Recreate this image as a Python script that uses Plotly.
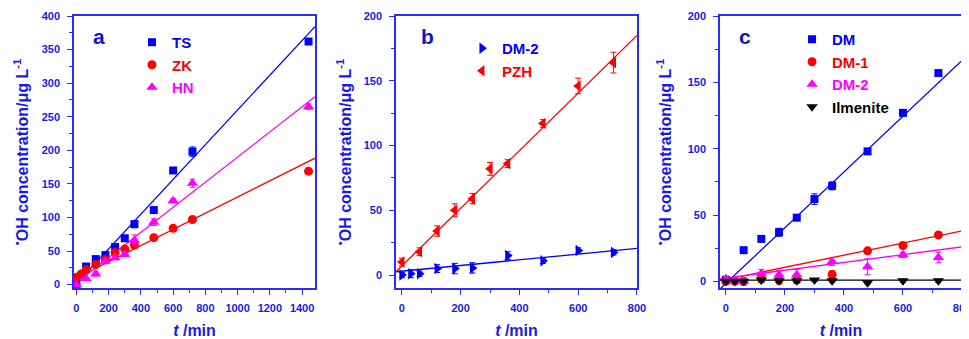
import plotly.graph_objects as go

# ---------------- data ----------------
# Panel a
TS_T = [0, 60, 120, 180, 240, 300, 360, 480, 600, 720, 1440]
TS_V = [1, 27, 38, 44, 56, 69, 90, 111, 170, 198, 362]
TS_E = [2, 3, 4, 3, 3, 3, 5, 4, 4, 7, 4]

ZK_T = [0, 30, 60, 120, 180, 240, 300, 360, 480, 600, 720, 1440]
ZK_V = [11, 16, 22, 30, 37, 48, 53, 59, 70, 84, 97, 169]
ZK_E = [2, 2, 2, 2, 2, 3, 2, 2, 2, 2, 2, 3]

HN_T = [0, 60, 120, 180, 240, 300, 360, 480, 600, 720, 1440]
HN_V = [0, 9, 16, 35, 40, 45, 66, 93, 125, 151, 265]
HN_E = [2, 2, 3, 3, 3, 3, 8, 5, 3, 6, 4]

# Panel b
DM2B_T = [0, 30, 60, 120, 180, 240, 360, 480, 600, 720]
DM2B_V = [0, 1, 1, 5, 5, 5.5, 15, 11, 19, 17.5]
DM2B_E = [2, 3, 2, 3, 4, 4, 3, 2, 2, 2]

PZH_T = [0, 60, 120, 180, 240, 300, 360, 480, 600, 720]
PZH_V = [10, 18, 34, 50, 59, 82, 86, 117, 146, 164]
PZH_E = [3, 3, 4, 5, 4, 5, 3, 3, 6, 8]

# Panel c
DM_T = [0, 60, 120, 180, 240, 300, 360, 480, 600, 720]
DM_V = [1, 23.5, 32, 37, 48, 62, 72, 98, 127, 157]
DM_E = [1, 2, 2, 3, 2, 4, 3, 2, 1, 2]

DM1_T = [0, 30, 60, 120, 180, 240, 360, 480, 600, 720]
DM1_V = [0, 0, 0, 2, 1, 1, 5, 23, 27, 35]
DM1_E = [1, 1, 2, 3, 3, 2, 3, 1, 1, 1]

DM2C_T = [0, 30, 60, 120, 180, 240, 360, 480, 600, 720]
DM2C_V = [2, 0, 0, 6, 5, 5, 15, 11, 20, 18]
DM2C_E = [2, 2, 3, 3, 3, 4, 3, 6, 2, 4]

ILM_T = [0, 30, 60, 120, 180, 240, 300, 360, 480, 600, 720]
ILM_V = [0, 0, 0, 1, 0.5, 0.5, 1, 0.5, -1, 0.5, 0.5]
ILM_E = [1, 1, 1, 1, 1, 1, 1, 1, 1, 1, 1]

# linear fits: (intercept, slope)
FIT_TS = (1.5, 0.2586)
FIT_ZK = (10.0, 0.1205)
FIT_HN = (3.0, 0.187)
FIT_DM2B = (3.0, 0.0219)
FIT_PZH = (7.0, 0.2225)
FIT_DM = (-1.5, 0.21)
FIT_DM1 = (1.5, 0.0456)
FIT_DM2C = (2.5, 0.0294)
FIT_ILM = (1.0, 0.0)

XR_A = [-15, 1480]
YR_A = [-5, 400]
XR_B = [-20, 800]
YR_B = [-10, 200]
XR_C = [-20, 800]
YR_C = [-5, 200]

# ---------------- style ----------------
BLUE = "#0000ff"
RED = "#ff0000"
MAG = "#ff00ff"
BLACK = "#000000"
AX = "#2b2bff"
TXT = "#1a1ae6"
FONT = "Arial, 'Liberation Sans', sans-serif"

fig = go.Figure()


def add_series(t, v, e, color, symbol, size, name, xa, ya, legend, showlegend=True):
    fig.add_trace(go.Scatter(
        x=t, y=v, mode="markers", name=name,
        marker=dict(color=color, symbol=symbol, size=size, line=dict(width=0)),
        error_y=dict(type="data", array=e, visible=True, color=color,
                     thickness=1, width=3),
        xaxis=xa, yaxis=ya, legend=legend, showlegend=showlegend,
    ))


def add_fit(fit, xr, color, xa, ya):
    b, m = fit
    x0, x1 = xr
    fig.add_trace(go.Scatter(
        x=[x0, x1], y=[b + m * x0, b + m * x1], mode="lines",
        line=dict(color=color, width=1.3), showlegend=False,
        xaxis=xa, yaxis=ya, hoverinfo="skip",
    ))


def cname(txt, color):
    return f'<span style="color:{color}">{txt}</span>'


# Panel a
add_fit(FIT_TS, XR_A, BLUE, "x", "y")
add_fit(FIT_ZK, XR_A, RED, "x", "y")
add_fit(FIT_HN, XR_A, MAG, "x", "y")
add_series(TS_T, TS_V, TS_E, BLUE, "square", 8, cname("TS", BLUE), "x", "y", "legend")
add_series(ZK_T, ZK_V, ZK_E, RED, "circle", 9, cname("ZK", RED), "x", "y", "legend")
add_series(HN_T, HN_V, HN_E, MAG, "triangle-up", 10, cname("HN", MAG), "x", "y", "legend")

# Panel b
add_fit(FIT_DM2B, XR_B, BLUE, "x2", "y2")
add_fit(FIT_PZH, XR_B, RED, "x2", "y2")
add_series(DM2B_T, DM2B_V, DM2B_E, BLUE, "triangle-right", 10, cname("DM-2", BLUE), "x2", "y2", "legend2")
add_series(PZH_T, PZH_V, PZH_E, RED, "triangle-left", 10, cname("PZH", RED), "x2", "y2", "legend2")

# Panel c
add_fit(FIT_DM, XR_C, BLUE, "x3", "y3")
add_fit(FIT_DM1, XR_C, RED, "x3", "y3")
add_fit(FIT_DM2C, XR_C, MAG, "x3", "y3")
add_fit(FIT_ILM, XR_C, BLACK, "x3", "y3")
add_series(DM_T, DM_V, DM_E, BLUE, "square", 8, cname("DM", BLUE), "x3", "y3", "legend3")
add_series(DM1_T, DM1_V, DM1_E, RED, "circle", 9, cname("DM-1", RED), "x3", "y3", "legend3")
add_series(DM2C_T, DM2C_V, DM2C_E, MAG, "triangle-up", 10, cname("DM-2", MAG), "x3", "y3", "legend3")
add_series(ILM_T, ILM_V, ILM_E, BLACK, "triangle-down", 10, cname("Ilmenite", BLACK), "x3", "y3", "legend3")

YTITLE = "<sup>•</sup>OH concentration/μg L<sup>-1</sup>"
XTITLE = "<i>t</i> /min"


def axis(rng, dtick, mdtick, domain, anchor, title, standoff, lblstand):
    return dict(
        range=rng, dtick=dtick, tick0=0, domain=domain, anchor=anchor,
        showline=True, linecolor=AX, linewidth=1.5, mirror=True,
        ticks="outside", ticklen=5, tickwidth=1.2, tickcolor=AX,
        ticklabelstandoff=lblstand, ticklabeloverflow="allow",
        tickfont=dict(family=FONT, size=11, color=TXT, weight="bold"),
        showgrid=False, zeroline=False,
        minor=dict(ticks="outside", ticklen=3, tickwidth=1, tickcolor=AX,
                   dtick=mdtick, tick0=0, showgrid=False),
        title=dict(text=title, standoff=standoff,
                   font=dict(family=FONT, size=16, color=TXT, weight="bold")),
    )


DOM_A = [0.0, 0.2714]
DOM_B = [0.3626, 0.6340]
DOM_C = [0.7275, 1.0]

LEGFONT = dict(family=FONT, size=15, color=BLUE, weight="bold")
LETTER = dict(family=FONT, size=21, color="#1414c8", weight="bold")

# page body has an 8px margin, so the figure is 8px smaller than the window
fig.update_layout(
    width=961, height=331,
    margin=dict(l=66, r=7, t=8, b=51, autoexpand=False),
    paper_bgcolor="white", plot_bgcolor="white",
    font=dict(family=FONT, color=TXT),
    xaxis=axis(XR_A, 200, 100, DOM_A, "y", XTITLE, 14, 4),
    yaxis=axis(YR_A, 50, 25, [0, 1], "x", YTITLE, 9, 5),
    xaxis2=axis(XR_B, 200, 100, DOM_B, "y2", XTITLE, 14, 4),
    yaxis2=axis(YR_B, 50, 25, [0, 1], "x2", YTITLE, 8, 5),
    xaxis3=axis(XR_C, 200, 100, DOM_C, "y3", XTITLE, 14, 4),
    yaxis3=axis(YR_C, 50, 25, [0, 1], "x3", YTITLE, 12, 5),
    legend=dict(x=0.0653, y=0.9633, xanchor="left", yanchor="top",
                bgcolor="rgba(0,0,0,0)", tracegroupgap=0, font=LEGFONT),
    legend2=dict(x=0.4369, y=0.9412, xanchor="left", yanchor="top",
                 bgcolor="rgba(0,0,0,0)", tracegroupgap=0, font=LEGFONT),
    legend3=dict(x=0.8086, y=0.9743, xanchor="left", yanchor="top",
                 bgcolor="rgba(0,0,0,0)", tracegroupgap=0, font=LEGFONT),
    annotations=[
        dict(text="a", x=0.0282, y=0.9228, xref="paper", yref="paper",
             showarrow=False, xanchor="center", yanchor="middle", font=LETTER),
        dict(text="b", x=0.3981, y=0.9228, xref="paper", yref="paper",
             showarrow=False, xanchor="center", yanchor="middle", font=LETTER),
        dict(text="c", x=0.7556, y=0.9228, xref="paper", yref="paper",
             showarrow=False, xanchor="center", yanchor="middle", font=LETTER),
    ],
    showlegend=True,
)

fig.write_html("out.html")
